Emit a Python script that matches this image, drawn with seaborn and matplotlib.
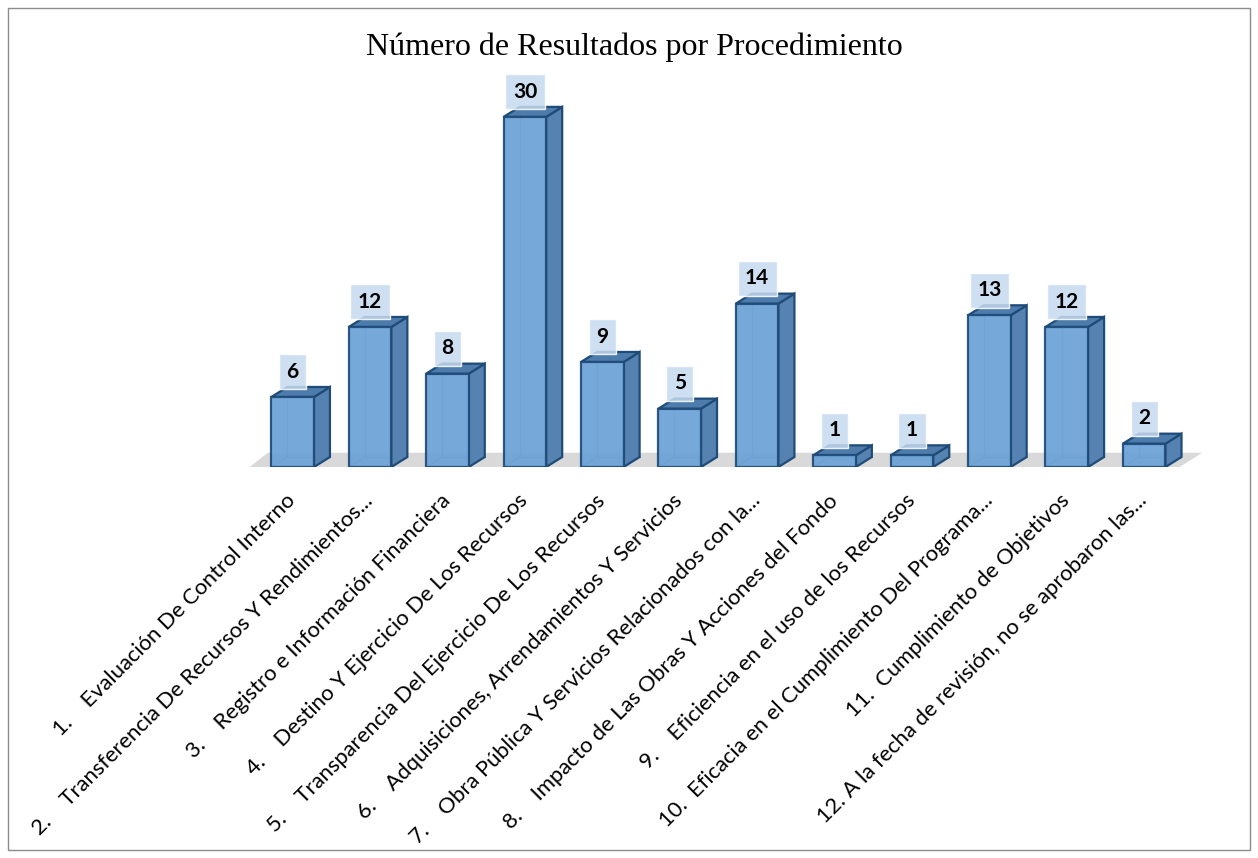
import matplotlib
matplotlib.use("Agg")
import matplotlib.pyplot as plt
import seaborn as sns
import pandas as pd
from matplotlib.patches import Polygon, Rectangle

# ---- data ----
categories = [
    "1.    Evaluación De Control Interno",
    "2.    Transferencia De Recursos Y Rendimientos...",
    "3.    Registro e Información Financiera",
    "4.    Destino Y Ejercicio De Los Recursos",
    "5.    Transparencia Del Ejercicio De Los Recursos",
    "6.    Adquisiciones, Arrendamientos Y Servicios",
    "7.    Obra Pública Y Servicios Relacionados con la...",
    "8.    Impacto de Las Obras Y Acciones del Fondo",
    "9.    Eficiencia en el uso de los Recursos",
    "10.  Eficacia en el Cumplimiento Del Programa...",
    "11.  Cumplimiento de Objetivos",
    "12. A la fecha de revisión, no se aprobaron las...",
]
values = [6, 12, 8, 30, 9, 5, 14, 1, 1, 13, 12, 2]
title = "Número de Resultados por Procedimiento"

df = pd.DataFrame({"cat": categories, "val": values})

sns.set_theme(style="white")
plt.rcParams["font.family"] = ["Lato", "DejaVu Sans"]

fig = plt.figure(figsize=(12.58, 8.58), dpi=100)
ax = fig.add_axes([240 / 1258, (858 - 467) / 858, 970 / 1258, 397 / 858])

front_c = "#6aa2d7"
side_c = "#5582b1"
top_c = "#4d7bab"
edge_c = "#1f4b78"

sns.barplot(data=df, x="cat", y="val", ax=ax, width=0.55, color=front_c,
            saturation=1, edgecolor=edge_c, linewidth=1.6, zorder=3)

ax.set_xlim(-0.68, 11.85)
ax.set_ylim(0, 397 / 11.67)

dx = 16 / 77.36
dy = 10 / 11.67

# floor
floor = Polygon([(-0.58, -0.12), (11.43, -0.12), (11.75, 1.22), (-0.32, 1.22)],
                closed=True, facecolor="#d9d9d9", edgecolor="none", zorder=1)
ax.add_patch(floor)

for p in ax.patches[:]:
    if p is floor:
        continue
    x0 = p.get_x()
    w = p.get_width()
    h = p.get_height()
    if not isinstance(p, Rectangle) or w == 0:
        continue
    # back edges (seen through the translucent front)
    ax.plot([x0 + dx, x0 + dx], [dy, h + dy], color=edge_c, lw=1.0, alpha=0.35, zorder=2)
    ax.plot([x0, x0 + dx], [0, dy], color=edge_c, lw=1.0, alpha=0.35, zorder=2)
    ax.plot([x0 + dx, x0 + w + dx], [dy, dy], color=edge_c, lw=1.0, alpha=0.35, zorder=2)
    side = Polygon([(x0 + w, 0), (x0 + w + dx, dy), (x0 + w + dx, h + dy), (x0 + w, h)],
                   closed=True, facecolor=side_c, edgecolor=edge_c, lw=1.6, zorder=2.5)
    top = Polygon([(x0, h), (x0 + dx, h + dy), (x0 + w + dx, h + dy), (x0 + w, h)],
                  closed=True, facecolor=top_c, edgecolor=edge_c, lw=1.6, zorder=2.5)
    ax.add_patch(side)
    ax.add_patch(top)
    p.set_alpha(0.92)

for i, v in enumerate(values):
    ax.annotate(str(v), xy=(i, v + dy), xytext=(0, 11), textcoords="offset points",
                ha="center", va="center", fontsize=15, fontweight="bold",
                color="black", zorder=5,
                bbox=dict(boxstyle="square,pad=0.36", facecolor="#c6daef",
                          edgecolor="white", alpha=0.85))

ax.set_xlabel("")
ax.set_ylabel("")
ax.set_yticks([])
for s in ax.spines.values():
    s.set_visible(False)
ax.tick_params(axis="x", length=0, pad=22)
plt.setp(ax.get_xticklabels(), rotation=45, ha="right", va="center",
         rotation_mode="anchor", fontsize=15.8, color="black")

fig.text(634 / 1258, 1 - 47 / 858, title, ha="center", va="center",
         fontsize=23, family="Liberation Serif", color="black")

fig.patches.append(Rectangle((8 / 1258, 8 / 858), 1242 / 1258, 842 / 858,
                             transform=fig.transFigure, fill=False,
                             edgecolor="#8c8c8c", lw=1.0))

fig.savefig("out.png", dpi=100)
